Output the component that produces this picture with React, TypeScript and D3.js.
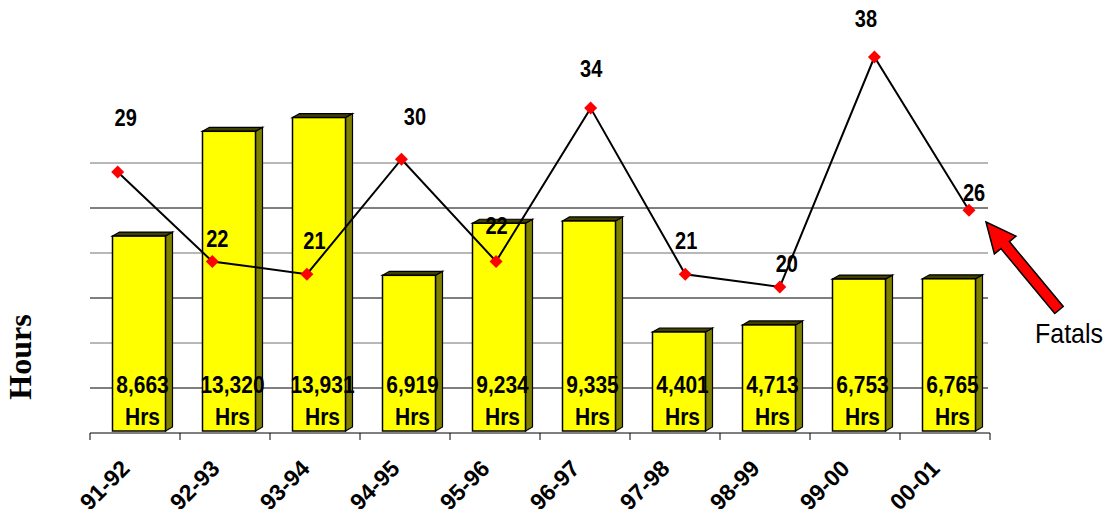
import React from "react";
import * as d3 from "d3";

const categories = ["91-92", "92-93", "93-94", "94-95", "95-96", "96-97", "97-98", "98-99", "99-00", "00-01"];
const hours = [8663, 13320, 13931, 6919, 9234, 9335, 4401, 4713, 6753, 6765];
const fatals = [29, 22, 21, 30, 22, 34, 21, 20, 38, 26];
const gridTicks = [2000, 4000, 6000, 8000, 10000, 12000];
// manual label placement offsets (annotation style, relative to each marker)
const labelDx = [8, 5, 7.5, 13.5, 0.5, 0.5, 1, 7, -8.5, 5];
const labelDy = [-46, -14, -25, -34, -27, -31, -25, -15, -30, -9];

const W = 1110;
const H = 516;
const BOLD = "'Liberation Sans', Arial, sans-serif";

export default function App() {
  const x = d3.scaleBand().domain(categories).range([90, 990]).padding(0);
  const y = d3.scaleLinear().domain([0, 12000]).range([433, 163]);
  const xLine = d3.scalePoint().domain(categories).range([117.7, 969]);
  const yLine = d3.scaleLinear().domain([20, 38]).range([287, 57]);
  const fmt = d3.format(",");

  const depthX = 7;
  const depthY = -4;
  const barW = 53;
  const lift = 2;

  const linePath = d3
    .line<number>()
    .x((_, i) => xLine(categories[i]) as number)
    .y((d) => yLine(d))(fatals) as string;

  // arrow annotation geometry (tip -> tail)
  const tip = [986, 222];
  const tail = [1059, 310];
  const ang = Math.atan2(tail[1] - tip[1], tail[0] - tip[0]);
  const len = Math.hypot(tail[0] - tip[0], tail[1] - tip[1]);
  const headL = 30;
  const headW = 14;
  const shaftW = 5.5;
  const arrowPts = [
    [0, 0],
    [headL, -headW],
    [headL, -shaftW],
    [len, -shaftW],
    [len, shaftW],
    [headL, shaftW],
    [headL, headW],
  ]
    .map(([a, b]) => {
      const px = tip[0] + a * Math.cos(ang) - b * Math.sin(ang);
      const py = tip[1] + a * Math.sin(ang) + b * Math.cos(ang);
      return `${px},${py}`;
    })
    .join(" ");

  return (
    <svg width={W} height={H} style={{ position: "absolute", left: 0, top: 0, background: "#fff" }}>
      {/* gridlines */}
      {gridTicks.map((t, i) => (
        <line
          key={t}
          x1={90}
          x2={988}
          y1={y(t)}
          y2={y(t)}
          stroke={i % 2 === 0 ? "#000" : "#707070"}
          strokeWidth={1}
        />
      ))}
      {/* axis line and ticks */}
      <line x1={90} x2={990} y1={433} y2={433} stroke="#000" strokeWidth={1} />
      {d3.range(categories.length + 1).map((i) => {
        const tx = 90 + i * x.bandwidth();
        return <line key={i} x1={tx} x2={tx} y1={433} y2={440} stroke="#000" strokeWidth={1} />;
      })}

      {/* bars */}
      {hours.map((v, i) => {
        const x0 = (x(categories[i]) as number) + 22.5;
        const x1 = x0 + barW;
        const yt = y(v) - lift;
        const yb = y(0) - lift;
        return (
          <g key={categories[i]}>
            <polygon
              points={`${x1},${yt} ${x1 + depthX},${yt + depthY} ${x1 + depthX},${yb + depthY} ${x1},${yb}`}
              fill="#808000"
              stroke="#000"
              strokeWidth={1.2}
            />
            <polygon
              points={`${x0},${yt} ${x0 + depthX},${yt + depthY} ${x1 + depthX},${yt + depthY} ${x1},${yt}`}
              fill="#404000"
              stroke="#000"
              strokeWidth={1.2}
            />
            <rect x={x0} y={yt} width={barW} height={yb - yt} fill="#ffff00" stroke="#000" strokeWidth={1.5} />
          </g>
        );
      })}

      {/* bar labels */}
      {hours.map((v, i) => {
        const cx = (x(categories[i]) as number) + 22.5 + (barW + depthX) / 2;
        return (
          <g key={"hl" + i} fontFamily={BOLD} fontWeight="bold" fontSize={21} textAnchor="middle" fill="#000">
            <text transform={`translate(${cx},393) scale(1,1.15)`}>{fmt(v)}</text>
            <text transform={`translate(${cx},425) scale(1,1.15)`}>Hrs</text>
          </g>
        );
      })}

      {/* fatals line */}
      <path d={linePath} fill="none" stroke="#000" strokeWidth={2} />
      {fatals.map((v, i) => {
        const px = xLine(categories[i]) as number;
        const py = yLine(v);
        const s = 6.5;
        return (
          <polygon
            key={"m" + i}
            points={`${px},${py - s} ${px + s},${py} ${px},${py + s} ${px - s},${py}`}
            fill="#ff0000"
          />
        );
      })}
      {fatals.map((v, i) => {
        const px = (xLine(categories[i]) as number) + labelDx[i];
        const py = yLine(v) + labelDy[i];
        return (
          <text
            key={"fl" + i}
            transform={`translate(${px},${py}) scale(1,1.2)`}
            fontFamily={BOLD}
            fontWeight="bold"
            fontSize={20}
            textAnchor="middle"
            fill="#000"
          >
            {v}
          </text>
        );
      })}

      {/* category labels */}
      {categories.map((c) => {
        const cx = (x(c) as number) + x.bandwidth() / 2 - 4;
        return (
          <text
            key={"c" + c}
            transform={`translate(${cx},470) rotate(-45)`}
            fontFamily={BOLD}
            fontWeight="bold"
            fontSize={23}
            textAnchor="end"
            fill="#000"
          >
            {c}
          </text>
        );
      })}

      {/* y-axis title */}
      <text
        transform="translate(31,357) rotate(-90)"
        fontFamily="'Liberation Serif', 'Times New Roman', serif"
        fontWeight="bold"
        fontSize={32}
        textAnchor="middle"
        fill="#000"
      >
        Hours
      </text>

      {/* Fatals annotation */}
      <polygon points={arrowPts} fill="#ff0000" stroke="#000" strokeWidth={1.5} strokeLinejoin="miter" />
      <text
        transform="translate(1035,343) scale(1,1.1)"
        fontFamily="'Liberation Sans', Arial, sans-serif"
        fontSize={25}
        fill="#000"
      >
        Fatals
      </text>
    </svg>
  );
}
